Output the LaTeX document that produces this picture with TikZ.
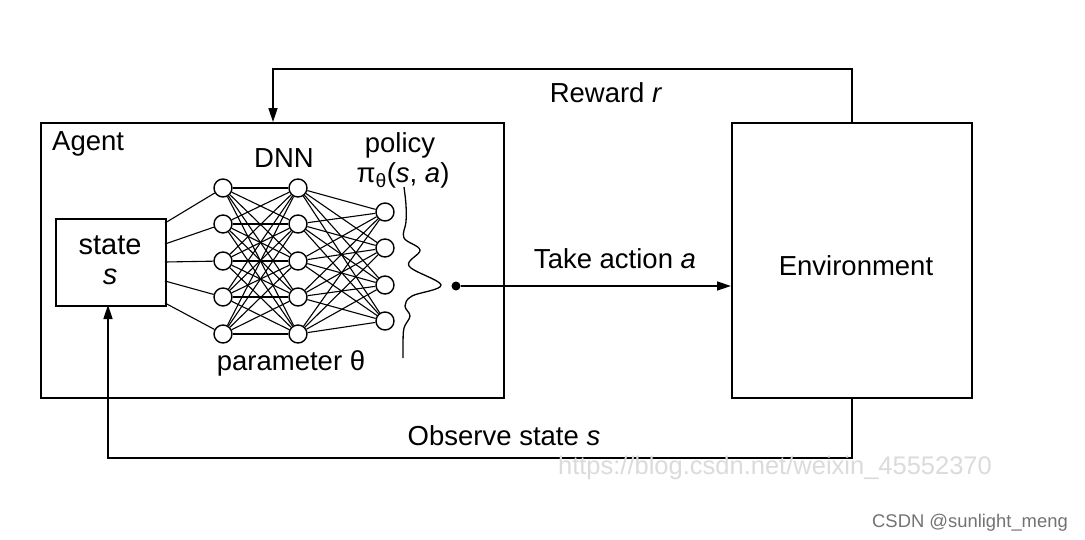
\documentclass[tikz,border=0pt]{standalone}
\usepackage{fontspec}
\setmainfont{Liberation Sans}
\usetikzlibrary{arrows.meta}
\begin{document}
\begin{tikzpicture}[x=1pt,y=-1pt,
  box/.style={draw, line width=1.7pt, inner sep=0, anchor=north west},
  conn/.style={line width=1.7pt},
  arr/.style={conn, -{Triangle[length=14pt,width=9pt]}},
  neuron/.style={circle, draw, line width=1.4pt, fill=white, minimum size=18pt, inner sep=0},
  syn/.style={line width=1.1pt},
  lbl/.style={font=\fontsize{27.5}{33}\selectfont, inner sep=0, anchor=base},
  wm/.style={font=\fontsize{25.5}{30}\selectfont, inner sep=0, anchor=base, text=black!14},
  sig/.style={font=\fontsize{18.4}{22}\selectfont, inner sep=0, anchor=base, text=black!55}]
\useasboundingbox[fill=white] (0,0) rectangle (1085,539);

% boxes
\node[box, minimum width=463pt, minimum height=275pt] (agent) at (40,122) {};
\node[box, minimum width=240pt, minimum height=275pt] (env) at (731,122) {};
\node[box, minimum width=110pt, minimum height=87pt] (state) at (55,218) {};

% texts
\node[lbl, anchor=base west] (agentlbl) at (52,150) {Agent};
\node[lbl, font=\fontsize{29}{34}\selectfont] (statelbl) at (110,254) {state};
\node[lbl, font=\fontsize{29}{34}\selectfont] (slbl) at (110,284) {\textit{s}};
\node[lbl] (dnn) at (284,167) {DNN};
\node[lbl] (pol) at (400,152) {policy};
\node[lbl] (pi) at (403,182) {π\textsubscript{θ}(\textit{s}, \textit{a})};
\node[lbl] (param) at (291,370) {parameter θ};
\node[lbl] (rew) at (606,102) {Reward \textit{r}};
\node[lbl] (act) at (615,268) {Take action \textit{a}};
\node[lbl] (envlbl) at (856,275) {Environment};
\node[lbl] (obs) at (504,445) {Observe state \textit{s}};

% network
\foreach \i/\y in {1/188,2/224,3/261,4/297,5/334} {
  \node[neuron] (a\i) at (223,\y) {};
  \node[neuron] (b\i) at (298,\y) {};
}
\foreach \i/\y in {1/212,2/248,3/285,4/321} {
  \node[neuron] (c\i) at (385,\y) {};
}
\foreach \i/\y in {1/223,2/244,3/262,4/281,5/303} {
  \coordinate (p\i) at (165,\y);
  \draw[syn] (p\i) -- (a\i);
}
\foreach \i in {1,...,5} {
  \foreach \j in {1,...,5} { \draw[syn] (a\i) -- (b\j); }
  \foreach \j in {1,...,4} { \draw[syn] (b\i) -- (c\j); }
}

% policy distribution curve
\draw[line width=1.3pt] plot[smooth, tension=0.6] coordinates {(404,187) (406,205) (406,222) (404,238) (420,250) (409,266) (441,285) (412,296) (405,306) (410,316) (404,328) (403,345) (403,358)};

% action arrow
\node[circle, fill, minimum size=9pt, inner sep=0] (dot) at (456,286) {};
\draw[arr] (dot) -- (dot -| env.west);

% reward loop
\coordinate (rin) at (273,122);
\draw[arr] (env.north) -- ++(0,-53) -| (rin);

% observe loop
\coordinate (sin) at (108,305);
\draw[arr] (env.south) -- ++(0,59) -| (sin);

% watermarks
\node[wm] (wm1) at (775,474) {https://blog.csdn.net/weixin\_45552370};
\node[sig] (wm2) at (970,527) {CSDN @sunlight\_meng};
\end{tikzpicture}
\end{document}
